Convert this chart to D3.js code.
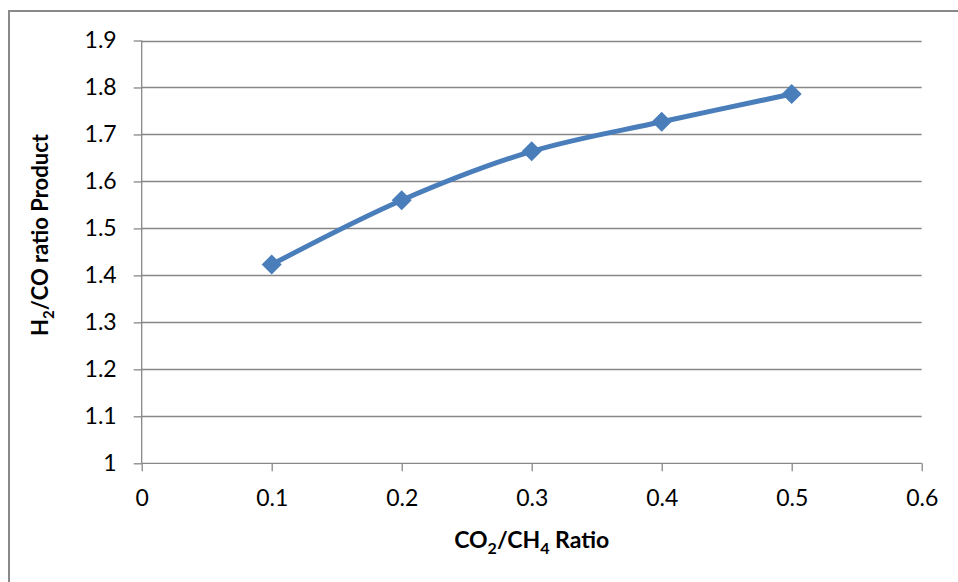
<!DOCTYPE html>
<html>
<head>
<meta charset="utf-8">
<script src="https://cdn.jsdelivr.net/npm/d3@7"></script>
<style>
  html, body { margin: 0; padding: 0; background: #fff; }
  svg { display: block; }
  text { font-family: Lato, "Open Sans", sans-serif; fill: #000; }
</style>
</head>
<body>
<svg id="chart" width="958" height="582"></svg>
<script>
// CO2/CH4 feed ratio vs. resulting H2/CO ratio in the product
const ratios = [0.1, 0.2, 0.3, 0.4, 0.5];
const h2coValues = [1.423, 1.560, 1.664, 1.727, 1.786];
const xTickValues = [0, 0.1, 0.2, 0.3, 0.4, 0.5, 0.6];
const yTickValues = [1, 1.1, 1.2, 1.3, 1.4, 1.5, 1.6, 1.7, 1.8, 1.9];

const svg = d3.select("#chart");
const W = 958, H = 582;
const plot = { left: 141.7, right: 921.7, top: 40.5, bottom: 463.3 };
const gridColor = "#878787";
const seriesColor = "#4A7EBB";

// Outer chart frame
svg.append("rect")
  .attr("x", 9).attr("y", 11)
  .attr("width", W + 20).attr("height", H + 20)
  .attr("fill", "none")
  .attr("stroke", "#898989")
  .attr("stroke-width", 2);

const x = d3.scaleLinear().domain([0, 0.6]).range([plot.left, plot.right]);
const y = d3.scaleLinear().domain([1, 1.9]).range([plot.bottom, plot.top]);

// Horizontal gridlines
svg.append("g")
  .selectAll("line")
  .data(yTickValues.slice(1))
  .join("line")
  .attr("x1", plot.left).attr("x2", plot.right)
  .attr("y1", d => Math.round(y(d)) + 0.5)
  .attr("y2", d => Math.round(y(d)) + 0.5)
  .attr("stroke", gridColor)
  .attr("stroke-width", 1.3);

// Y axis
const yAxis = svg.append("g")
  .attr("transform", `translate(${plot.left},0)`)
  .call(d3.axisLeft(y).tickValues(yTickValues).tickFormat(d3.format("~g"))
    .tickSize(8).tickPadding(17));
yAxis.select(".domain").attr("stroke", gridColor).attr("stroke-width", 1.3)
  .attr("d", `M0,${plot.top}V${plot.bottom}`);
yAxis.selectAll(".tick line").attr("stroke", gridColor).attr("stroke-width", 1.3);
yAxis.selectAll(".tick text")
  .attr("font-size", 23).attr("font-family", "Lato, sans-serif").attr("fill", "#000");

// X axis
const xAxis = svg.append("g")
  .attr("transform", `translate(0,${plot.bottom})`)
  .call(d3.axisBottom(x).tickValues(xTickValues).tickFormat(d3.format("~g"))
    .tickSize(8).tickPadding(18));
xAxis.select(".domain").attr("stroke", gridColor).attr("stroke-width", 1.3)
  .attr("d", `M${plot.left},0H${plot.right}`);
xAxis.selectAll(".tick line").attr("stroke", gridColor).attr("stroke-width", 1.3);
xAxis.selectAll(".tick text")
  .attr("font-size", 23).attr("font-family", "Lato, sans-serif").attr("fill", "#000");

// Smoothed series line
const points = ratios.map((r, i) => [r, h2coValues[i]]);
const line = d3.line()
  .x(d => x(d[0]))
  .y(d => y(d[1]))
  .curve(d3.curveCatmullRom.alpha(0.5));

svg.append("path")
  .datum(points)
  .attr("d", line)
  .attr("fill", "none")
  .attr("stroke", seriesColor)
  .attr("stroke-width", 5)
  .attr("stroke-linejoin", "round")
  .attr("stroke-linecap", "round");

// Diamond markers
const diamond = "M0,-10L10,0L0,10L-10,0Z";
svg.append("g")
  .selectAll("path")
  .data(points)
  .join("path")
  .attr("transform", d => `translate(${x(d[0])},${y(d[1])})`)
  .attr("d", diamond)
  .attr("fill", seriesColor);

// Axis titles with subscripts
const xTitle = svg.append("text")
  .attr("x", (plot.left + plot.right) / 2)
  .attr("y", 548)
  .attr("text-anchor", "middle")
  .attr("font-size", 23)
  .attr("font-weight", "bold");
xTitle.append("tspan").text("CO");
xTitle.append("tspan").text("2").attr("font-size", 16).attr("dy", 6);
xTitle.append("tspan").text("/CH").attr("dy", -6);
xTitle.append("tspan").text("4").attr("font-size", 16).attr("dy", 6);
xTitle.append("tspan").text(" Ratio").attr("dy", -6);

const yTitle = svg.append("text")
  .attr("transform", `translate(48,${(133 + 337) / 2}) rotate(-90)`)
  .attr("text-anchor", "middle")
  .attr("font-size", 22)
  .attr("font-weight", "bold");
yTitle.append("tspan").text("H");
yTitle.append("tspan").text("2").attr("font-size", 15).attr("dy", 6);
yTitle.append("tspan").text("/CO ratio Product").attr("dy", -6);
</script>
</body>
</html>
